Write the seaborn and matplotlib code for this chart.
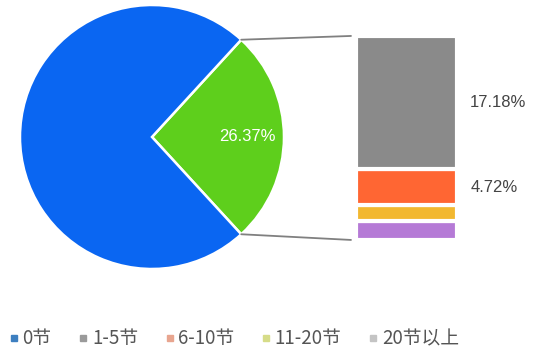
import matplotlib
matplotlib.use("Agg")
import matplotlib.pyplot as plt
from matplotlib.lines import Line2D
from matplotlib.patches import ConnectionPatch
import numpy as np
import seaborn as sns

# data
pie_labels = ["1节及以上", "0节"]
pie_values = [26.37, 73.63]
pie_colors = ["#5ecf1c", "#0a66f2"]

bar_labels = ["1-5节", "6-10节", "11-20节", "20节以上"]
bar_values = [17.18, 4.72, 2.03, 2.44]
bar_colors = ["#8a8a8a", "#ff6633", "#f2b830", "#b57ad6"]
bar_texts = ["17.18%", "4.72%", "", ""]

legend_labels = ["0节", "1-5节", "6-10节", "11-20节", "20节以上"]
legend_colors = ["#3d7fc0", "#9a9a9a", "#e8a58f", "#d6dc88", "#c4c4c4"]

sns.set_theme(style="white")
plt.rcParams["font.family"] = ["Noto Sans CJK SC", "DejaVu Sans"]
num_font = ["Liberation Sans Narrow", "Liberation Sans", "DejaVu Sans"]

fig = plt.figure(figsize=(5.33, 3.56), dpi=100)

# pie
ax1 = fig.add_axes([0.0375, 0.2444, 0.4953, 0.7416])
half = pie_values[0] / 2 * 3.6
wedges, texts, autotexts = ax1.pie(
    pie_values, colors=pie_colors, startangle=-half, counterclock=True,
    autopct=lambda p: f"{p:.2f}%" if p < 50 else "", pctdistance=0.72,
    wedgeprops=dict(edgecolor="white", linewidth=1.8),
    textprops=dict(color="white", fontsize=12, family=num_font))
ax1.set_xlim(-1, 1)
ax1.set_ylim(-1, 1)

# stacked bar
ax2 = fig.add_axes([0.6680, 0.3260, 0.1895, 0.5730])
bottom = 0
stack = list(zip(bar_values, bar_colors, bar_texts))[::-1]
for val, col, txt in stack:
    ax2.bar(0, val, bottom=bottom, width=1, color=col, edgecolor="white", linewidth=3)
    if txt:
        ax2.text(1.13, bottom + val / 2, txt, ha="left", va="center", fontsize=12,
                 color="#444444", family=num_font,
                 transform=ax2.get_yaxis_transform())
    bottom += val
ax2.set_xlim(-0.5, 0.5)
ax2.set_ylim(0, sum(bar_values))
ax2.axis("off")

# connectors
ang = np.deg2rad(half)
for sgn, yb in [(1, 1), (-1, 0)]:
    con = ConnectionPatch(xyA=(np.cos(ang), sgn * np.sin(ang)), coordsA=ax1.transData,
                          xyB=(-0.05, yb), coordsB=ax2.transAxes,
                          color="#808080", linewidth=1.3)
    fig.add_artist(con)

# legend
handles = [Line2D([], [], marker="s", linestyle="", markersize=4, color=c)
           for c in legend_colors]
fig.legend(handles, legend_labels, loc="center left", bbox_to_anchor=(0.016, 0.048),
           ncol=5, frameon=False, fontsize=13.5, labelcolor="#555555",
           handletextpad=0.15, columnspacing=1.4, handlelength=0.6,
           borderaxespad=0, borderpad=0)

fig.savefig("out.png", dpi=100)
